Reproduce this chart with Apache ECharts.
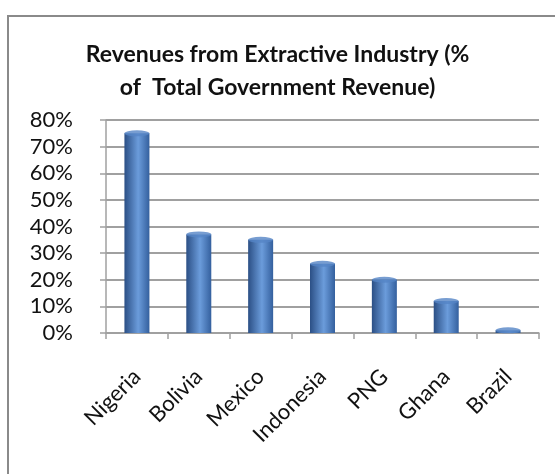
<!DOCTYPE html>
<html><head><meta charset="utf-8">
<script src="https://cdn.jsdelivr.net/npm/echarts@6/dist/echarts.min.js"></script>
<style>html,body{margin:0;padding:0;background:#fff}#c{width:555px;height:474px}</style>
</head><body><div id="c"></div>
<script>
const categories = ['Nigeria','Bolivia','Mexico','Indonesia','PNG','Ghana','Brazil'];
const values = [75, 37, 35, 26, 20, 12, 1];
const yTicks = [0,10,20,30,40,50,60,70,80];

const chart = echarts.init(document.getElementById('c'));
const barGrad = new echarts.graphic.LinearGradient(0,0,1,0,[
  {offset:0,color:'#2b4f85'},{offset:0.55,color:'#6b9cdb'},{offset:1,color:'#34609e'}]);
chart.setOption({
  animation:false,
  graphic:[{type:'rect',shape:{x:8,y:16,width:600,height:500},style:{fill:'none',stroke:'#8a8a8a',lineWidth:2},silent:true}],
  title:{text:'Revenues from Extractive Industry (%\nof  Total Government Revenue)',left:'center',top:33,
    padding:[5,28,5,5],
    textStyle:{fontFamily:'Lato',fontWeight:'bold',fontSize:23,lineHeight:33,color:'#111'}},
  grid:{left:106,right:16,top:120,bottom:141},
  xAxis:{type:'category',data:categories,
    axisLine:{lineStyle:{color:'#a0a0a0',width:1.5}},
    axisTick:{show:true,length:6,lineStyle:{color:'#a0a0a0',width:1.5}},
    axisLabel:{rotate:45,margin:40,fontFamily:'Lato',fontSize:22,color:'#111'}},
  yAxis:{type:'value',min:0,max:80,interval:10,
    axisLine:{show:true,lineStyle:{color:'#a0a0a0',width:1.5}},
    axisTick:{show:true,length:6,lineStyle:{color:'#a0a0a0',width:1.5}},
    splitLine:{lineStyle:{color:'#a0a0a0',width:2}},
    axisLabel:{formatter:v=>v+'%',margin:33,fontFamily:'Lato',fontSize:22,color:'#111'}},
  series:[
    {type:'bar',data:values,barWidth:25,itemStyle:{color:barGrad},z:2},
    {type:'scatter',data:values,symbol:'circle',symbolSize:[25,6],
      itemStyle:{color:'#5585c5'},z:3,silent:true}
  ]
});
</script></body></html>
